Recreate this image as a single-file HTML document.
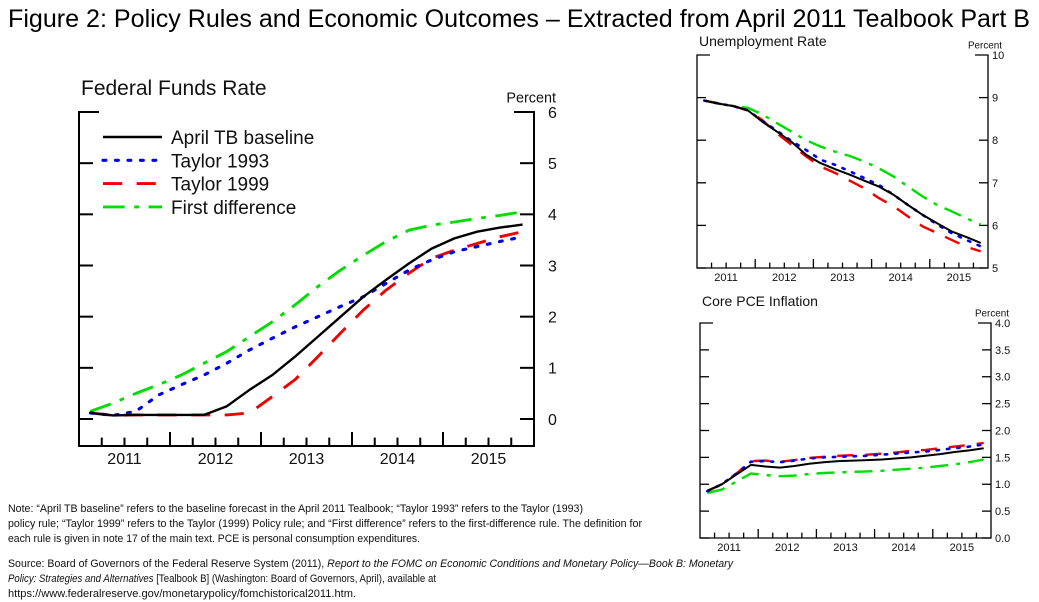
<!DOCTYPE html>
<html><head><meta charset="utf-8"><style>
html,body{margin:0;padding:0;background:#fff;}
svg{display:block;font-family:"Liberation Sans",sans-serif;}
</style></head><body>
<svg id="fig" width="1039" height="602" viewBox="0 0 1039 602" xmlns="http://www.w3.org/2000/svg">
<text x="8" y="27" font-size="25" textLength="1022" lengthAdjust="spacingAndGlyphs">Figure 2: Policy Rules and Economic Outcomes – Extracted from April 2011 Tealbook Part B</text>
<g font-size="11" fill="#111">
<text x="8" y="512" textLength="575" lengthAdjust="spacingAndGlyphs">Note: “April TB baseline” refers to the baseline forecast in the April 2011 Tealbook; “Taylor 1993” refers to the Taylor (1993)</text>
<text x="8" y="527" textLength="634" lengthAdjust="spacingAndGlyphs">policy rule; “Taylor 1999” refers to the Taylor (1999) Policy rule; and “First difference” refers to the first-difference rule.  The definition for</text>
<text x="8" y="542" textLength="412" lengthAdjust="spacingAndGlyphs">each rule is given in note 17 of the main text.  PCE is personal consumption expenditures.</text>
</g>
<g font-size="11" fill="#111">
<text x="8" y="567" textLength="725" lengthAdjust="spacingAndGlyphs">Source: Board of Governors of the Federal Reserve System (2011), <tspan font-style="italic">Report to the FOMC on Economic Conditions and Monetary Policy—Book B: Monetary</tspan></text>
<text x="8" y="582" textLength="428" lengthAdjust="spacingAndGlyphs"><tspan font-style="italic">Policy: Strategies and Alternatives</tspan> [Tealbook B] (Washington: Board of Governors, April), available at</text>
<text x="8" y="597" textLength="348" lengthAdjust="spacingAndGlyphs">https://www.federalreserve.gov/monetarypolicy/fomchistorical2011.htm.</text>
</g>
</svg>
<script>
// Federal funds rate (quarterly 2011Q1..2015Q4)
const ffrBaseline=[0.12,0.07,0.08,0.08,0.08,0.08,0.25,0.57,0.86,1.22,1.61,2.0,2.39,2.72,3.04,3.33,3.53,3.66,3.74,3.8];
const ffrTaylor93=[0.12,0.07,0.15,0.47,0.67,0.86,1.09,1.35,1.58,1.8,2.0,2.2,2.39,2.65,2.91,3.11,3.27,3.37,3.47,3.56];
const ffrTaylor99=[0.12,0.07,0.08,0.08,0.08,0.08,0.08,0.12,0.44,0.77,1.22,1.68,2.13,2.52,2.85,3.14,3.3,3.43,3.56,3.66];
const ffrFirstDiff=[0.15,0.31,0.5,0.67,0.86,1.09,1.32,1.61,1.9,2.23,2.59,2.91,3.2,3.47,3.69,3.79,3.85,3.92,3.98,4.05];
// Unemployment rate
const urBaseline=[8.93,8.86,8.8,8.7,8.43,8.2,7.96,7.66,7.46,7.32,7.19,7.05,6.91,6.72,6.48,6.25,6.05,5.86,5.73,5.59];
const urTaylor93=[8.93,8.86,8.8,8.7,8.45,8.22,7.98,7.77,7.54,7.42,7.27,7.11,6.95,6.72,6.48,6.25,6.02,5.82,5.66,5.51];
const urTaylor99=[8.93,8.86,8.8,8.7,8.47,8.16,7.89,7.62,7.38,7.23,7.05,6.87,6.64,6.45,6.21,5.98,5.82,5.66,5.5,5.39];
const urFirstDiff=[8.93,8.86,8.8,8.76,8.6,8.4,8.2,8.0,7.85,7.73,7.63,7.5,7.34,7.15,6.91,6.68,6.48,6.33,6.17,6.02];
// Core PCE inflation
const pceBaseline=[0.88,1.0,1.18,1.36,1.33,1.31,1.34,1.38,1.41,1.43,1.44,1.45,1.46,1.48,1.5,1.53,1.56,1.6,1.63,1.67];
const pceTaylor93=[0.87,1.0,1.2,1.42,1.43,1.41,1.44,1.48,1.5,1.51,1.52,1.53,1.55,1.57,1.59,1.61,1.64,1.67,1.7,1.74];
const pceTaylor99=[0.87,1.0,1.2,1.43,1.44,1.42,1.45,1.49,1.51,1.53,1.54,1.55,1.57,1.59,1.62,1.64,1.67,1.7,1.73,1.77];
const pceFirstDiff=[0.84,0.9,1.05,1.2,1.17,1.15,1.16,1.19,1.21,1.22,1.23,1.24,1.25,1.27,1.29,1.31,1.34,1.37,1.41,1.46];
const years=[2011,2012,2013,2014,2015];
const ffrTicks=["0","1","2","3","4","5","6"];
const urTicks=["5","6","7","8","9","10"];
const pceTicks=["0.0","0.5","1.0","1.5","2.0","2.5","3.0","3.5","4.0"];

const NS="http://www.w3.org/2000/svg";
const svg=document.getElementById('fig');
function mk(tag,attrs,parent){const e=document.createElementNS(NS,tag);for(const k in attrs)e.setAttribute(k,attrs[k]);(parent||svg).appendChild(e);return e;}

const styles=[
 {c:'#000',d:'',w:1},
 {c:'#0000ee',d:'1.2 4',w:1.3,cap:'round'},
 {c:'#ee0000',d:'8 6',w:1.2},
 {c:'#00dd00',d:'9 4 2 4',w:1.2}
];

function chart(o){
  const g=mk('g',{});
  
  
  const xs=t=>o.x0+(t-2011)/5*(o.x1-o.x0);
  const ys=v=>o.yBot0-(v-o.vmin)/(o.vmax-o.vmin)*(o.yBot0-o.yTop);
  const lw=o.axisW;
  const fr=mk('path',{d:`M${o.x0+o.stub},${o.yTop}H${o.x0}V${o.yB}H${o.x1}V${o.yTop}H${o.x1-o.stub}`,fill:'none',stroke:'#000','stroke-width':lw},g);
  
  
  o.ticks.forEach((lab,i)=>{
    const v=o.vmin+i*o.step;const y=ys(v);
    if(i<o.ticks.length-1){
      mk('line',{x1:o.x0,x2:o.x0+o.tk,y1:y,y2:y,stroke:'#000','stroke-width':lw},g);
      mk('line',{x1:o.x1,x2:o.x1-o.tk,y1:y,y2:y,stroke:'#000','stroke-width':lw},g);
    }
    const t=mk('text',{x:o.x1+o.lblDx,y:y+o.fs*0.36,'font-size':o.fs,fill:'#111'},g);
    t.textContent=lab;
    
    
  });
  for(let q=1;q<20;q++){
    const x=xs(2011+q/4);const len=q%4==0?o.tk:o.tk*0.6;
    mk('line',{x1:x,x2:x,y1:o.yB,y2:o.yB-len,stroke:'#000','stroke-width':lw},g);
  }
  years.forEach(yr=>{
    const t=mk('text',{x:xs(yr+0.5),y:o.yB+o.fs+2,'font-size':o.fs,'text-anchor':'middle',fill:'#111'},g);
    t.textContent=yr;
    
    
  });
  const tt=mk('text',{x:o.x0+2,y:o.titleY,'font-size':o.tfs,fill:'#111'},g);tt.textContent=o.title;
  
  
  const pc=mk('text',{x:o.x1+o.pcDx,y:o.yTop-o.fs*0.6,'font-size':o.fs*0.9,'text-anchor':'end',fill:'#111'},g);pc.textContent='Percent';
  
  
  const names=['series-baseline','series-taylor-1993','series-taylor-1999','series-first-difference'];
  [3,2,1,0].forEach(k=>{
    const s=styles[k];
    const d=o.series[k].map((v,i)=>(i?'L':'M')+xs(2011+(i+0.5)/4).toFixed(1)+','+ys(v).toFixed(1)).join('');
    const p=mk('path',{d:d,fill:'none',stroke:s.c,'stroke-width':s.w*o.sw,'stroke-dasharray':s.d?s.d.split(' ').map(n=>n*o.sw).join(' '):'none','stroke-linecap':s.cap||'butt','stroke-linejoin':'round'},g);
    
    
  });
  return g;
}

chart({name:'federal-funds-chart',x0:79,x1:534,yTop:112,yBot0:419,yB:446,vmin:0,vmax:6,step:1,ticks:ffrTicks,
  tk:14,stub:20,axisW:2,fs:16,lblDx:14,pcDx:22,title:'Federal Funds Rate',titleY:95,tfs:21,sw:2.4,
  series:[ffrBaseline,ffrTaylor93,ffrTaylor99,ffrFirstDiff]});
chart({name:'unemployment-chart',x0:697,x1:988,yTop:55,yBot0:268,yB:268,vmin:5,vmax:10,step:1,ticks:urTicks,
  tk:9,stub:13,axisW:1.3,fs:11,lblDx:4,pcDx:14,title:'Unemployment Rate',titleY:46,tfs:14,sw:2,
  series:[urBaseline,urTaylor93,urTaylor99,urFirstDiff]});
chart({name:'core-pce-chart',x0:700,x1:991,yTop:323,yBot0:538,yB:538,vmin:0,vmax:4,step:0.5,ticks:pceTicks,
  tk:9,stub:13,axisW:1.3,fs:11,lblDx:4,pcDx:18,title:'Core PCE Inflation',titleY:306,tfs:14,sw:2,
  series:[pceBaseline,pceTaylor93,pceTaylor99,pceFirstDiff]});

const legLabels=['April TB baseline','Taylor 1993','Taylor 1999','First difference'];
const lg=mk('g',{});


legLabels.forEach((lab,k)=>{
  const y=137+k*23.3;const s=styles[k];
  const e=mk('g',{},lg);
  
  
  mk('line',{x1:103,x2:162,y1:y,y2:y,stroke:s.c,'stroke-width':s.w*2.4,'stroke-dasharray':s.d?s.d.split(' ').map(n=>n*2.4).join(' '):'none','stroke-linecap':s.cap||'butt'},e);
  const t=mk('text',{x:171,y:y+7,'font-size':19,fill:'#111'},e);t.textContent=lab;
});
</script>
</body></html>
